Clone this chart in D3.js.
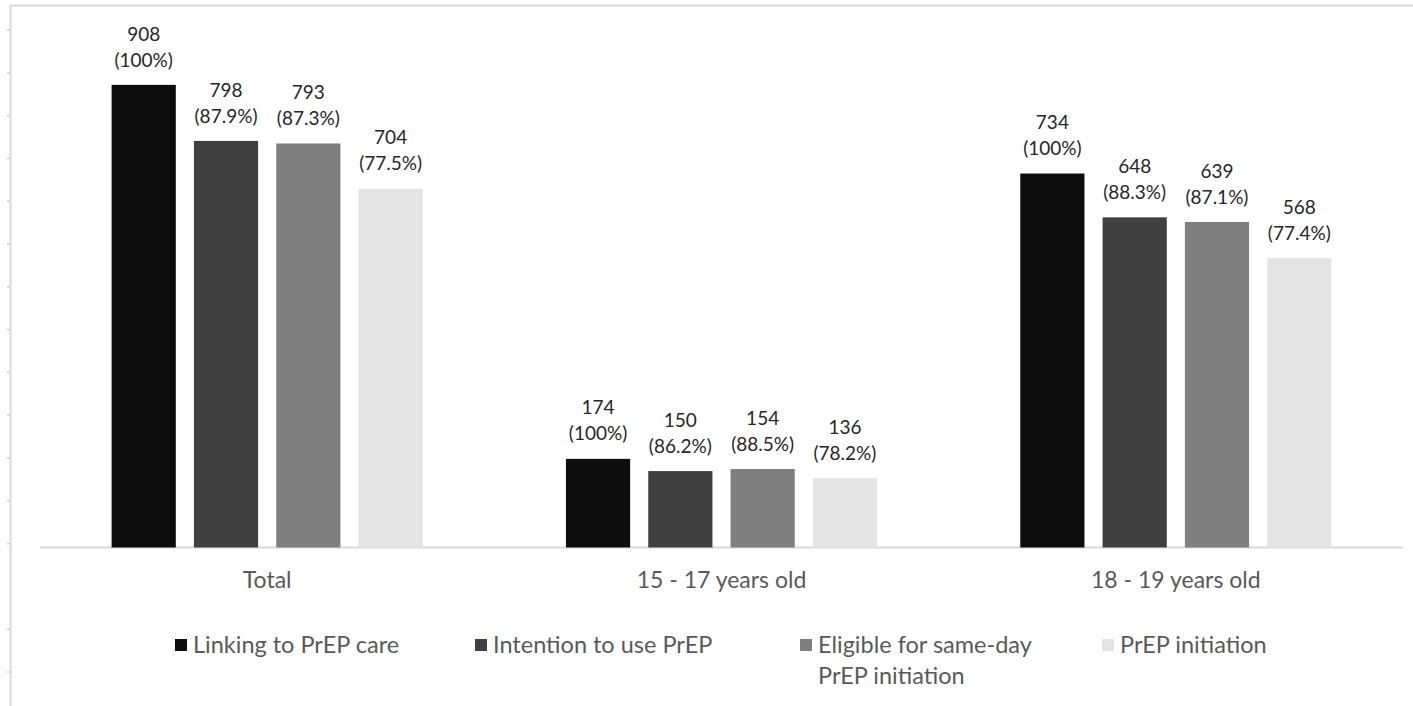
<!DOCTYPE html>
<html>
<head>
<meta charset="utf-8">
<script src="https://cdn.jsdelivr.net/npm/d3@7"></script>
<style>
  body { margin: 0; background: #fff; }
  svg { display: block; font-family: Lato, "Open Sans", sans-serif; }
</style>
</head>
<body>
<svg id="chart"></svg>
<script>
// data
const categories = ['Total', '15 - 17 years old', '18 - 19 years old'];
const series = ['Linking to PrEP care', 'Intention to use PrEP', 'Eligible for same-day PrEP initiation', 'PrEP initiation'];
const linking = [908, 174, 734];
const intention = [798, 150, 648];
const eligible = [793, 154, 639];
const initiation = [704, 136, 568];
const linkingPct = ['100%', '100%', '100%'];
const intentionPct = ['87.9%', '86.2%', '88.3%'];
const eligiblePct = ['87.3%', '88.5%', '87.1%'];
const initiationPct = ['77.5%', '78.2%', '77.4%'];
const colors = ['#0d0d0d', '#404040', '#7f7f7f', '#e4e4e4'];

const values = [linking, intention, eligible, initiation];
const pcts = [linkingPct, intentionPct, eligiblePct, initiationPct];

const width = 1413, height = 706;
const plotLeft = 40, plotRight = 1403, plotBottom = 547.5, plotTop = 38;

const svg = d3.select('#chart')
    .attr('width', width)
    .attr('height', height);

// outer frame left over from the cropped figure
svg.append('line')
    .attr('x1', 10.5).attr('x2', width)
    .attr('y1', 5.5).attr('y2', 5.5)
    .style('stroke', '#d9d9d9').style('stroke-width', 2);
svg.append('line')
    .attr('x1', 10.5).attr('x2', 10.5)
    .attr('y1', 5).attr('y2', height)
    .style('stroke', '#d9d9d9').style('stroke-width', 2);
const frameY = d3.scaleLinear().domain([0, 1]).range([30, 72.8]);
svg.append('g').selectAll('line')
    .data(d3.range(16).filter(i => i !== 13))
    .enter().append('line')
    .attr('x1', 7).attr('x2', 10)
    .attr('y1', i => frameY(i)).attr('y2', i => frameY(i))
    .style('stroke', '#d0d0d0').style('stroke-width', 1.5);

// scales
const x0 = d3.scaleBand().domain(categories).range([plotLeft, plotRight]);
const x1 = d3.scaleBand().domain(series).range([0, x0.bandwidth()])
    .paddingInner(0.22).paddingOuter(0.87);
const y = d3.scaleLinear().domain([0, 1000]).range([plotBottom, plotTop]);

// baseline
svg.append('line')
    .attr('x1', plotLeft).attr('x2', plotRight)
    .attr('y1', plotBottom).attr('y2', plotBottom)
    .style('stroke', '#d9d9d9').style('stroke-width', 2);

const rows = [];
categories.forEach((c, ci) => {
    series.forEach((s, si) => {
        rows.push({ cat: c, ser: s, si: si, value: values[si][ci], pct: pcts[si][ci] });
    });
});

const bars = svg.append('g').selectAll('g')
    .data(rows)
    .enter()
    .append('g')
    .attr('transform', d => `translate(${x0(d.cat) + x1(d.ser)},0)`);

bars.append('rect')
    .attr('y', d => y(d.value))
    .attr('width', x1.bandwidth())
    .attr('height', d => y(0) - y(d.value))
    .style('fill', d => colors[d.si]);

// two-line data labels
bars.append('text')
    .attr('x', x1.bandwidth() / 2)
    .attr('y', d => y(d.value) - 51)
    .attr('text-anchor', 'middle')
    .attr('dy', '0.35em')
    .text(d => d.value)
    .style('fill', '#262626')
    .style('font-size', '19px');
bars.append('text')
    .attr('x', x1.bandwidth() / 2)
    .attr('y', d => y(d.value) - 25)
    .attr('text-anchor', 'middle')
    .attr('dy', '0.35em')
    .text(d => `(${d.pct})`)
    .style('fill', '#262626')
    .style('font-size', '19px');

// category labels
svg.append('g').selectAll('text')
    .data(categories)
    .enter().append('text')
    .attr('x', d => x0(d) + x0.bandwidth() / 2)
    .attr('y', 580)
    .attr('dy', '0.35em')
    .attr('text-anchor', 'middle')
    .text(d => d)
    .style('fill', '#595959')
    .style('font-size', '23px');

// legend
const legendX = [175, 475, 800, 1102];
const legendLines = [['Linking to PrEP care'], ['Intention to use PrEP'], ['Eligible for same-day', 'PrEP initiation'], ['PrEP initiation']];
const legend = svg.append('g').selectAll('g')
    .data(series)
    .enter().append('g')
    .attr('transform', (d, i) => `translate(${legendX[i]},645)`);
legend.append('rect')
    .attr('x', 0).attr('y', -6)
    .attr('width', 12).attr('height', 12)
    .style('fill', (d, i) => colors[i]);
legend.append('text')
    .attr('x', 18)
    .style('fill', '#595959')
    .style('font-size', '23.5px')
    .selectAll('tspan')
    .data((d, i) => legendLines[i])
    .enter().append('tspan')
    .attr('x', 18)
    .attr('y', (d, j) => j * 31)
    .attr('dy', '0.35em')
    .text(d => d);
</script>
</body>
</html>
